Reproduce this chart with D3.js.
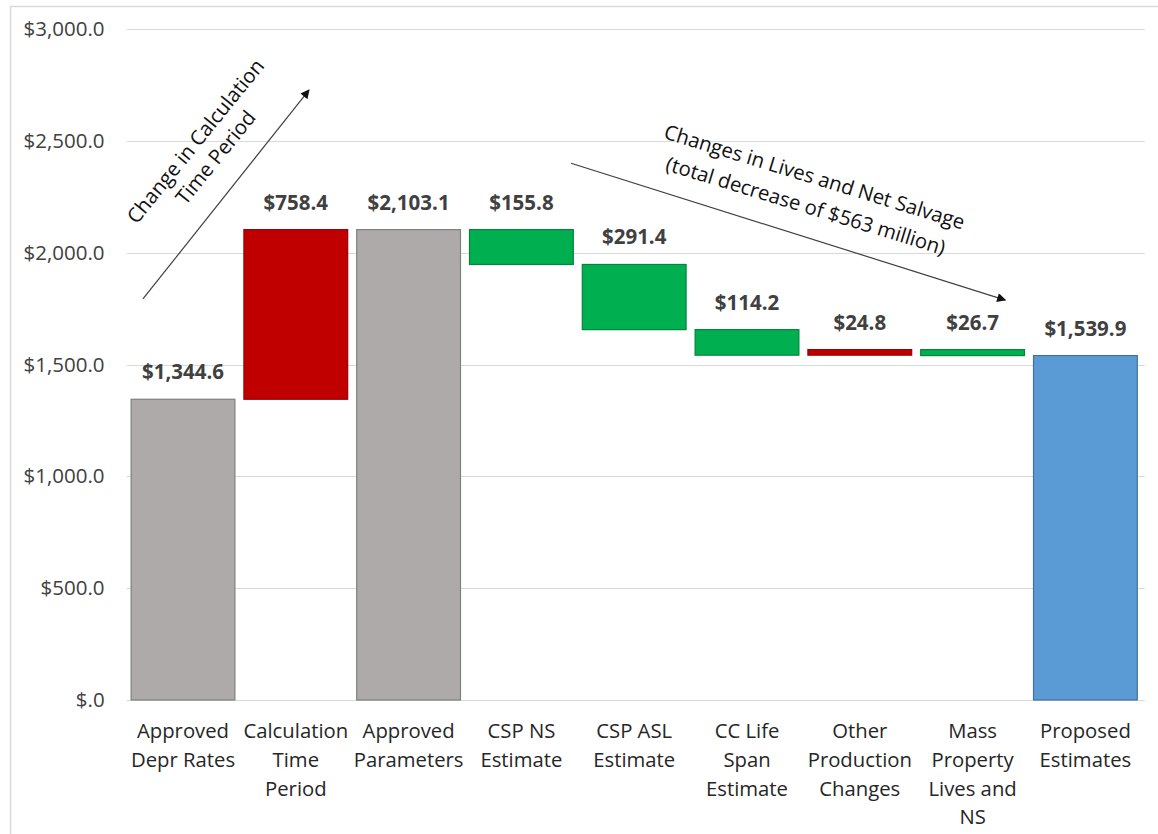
<!DOCTYPE html>
<html>
<head>
<meta charset="utf-8">
<script src="https://d3js.org/d3.v7.min.js"></script>
<style>
  body { margin: 0; background: #fff; }
  svg text { font-family: "Open Sans", "DejaVu Sans", sans-serif; }
</style>
</head>
<body>
<div id="chart"></div>
<script>
// categories (tick labels, "\n" = line break)
var categories = [
  "Approved\nDepr Rates",
  "Calculation\nTime\nPeriod",
  "Approved\nParameters",
  "CSP NS\nEstimate",
  "CSP ASL\nEstimate",
  "CC Life\nSpan\nEstimate",
  "Other\nProduction\nChanges",
  "Mass\nProperty\nLives and\nNS",
  "Proposed\nEstimates"
];
// signed step values; totals are absolute
var values = [1344.6, 758.4, 2103.1, -155.8, -291.4, -114.2, 24.8, -26.7, 1539.9];
var kinds = ["start", "up", "subtotal", "down", "down", "down", "up", "down", "end"];
var yTicks = [0, 500, 1000, 1500, 2000, 2500, 3000];

// annotations, in category-index / value units
var annoArrows = [
  { from: [-0.355, 1793], to: [1.117, 2727] },
  { from: [3.44, 2400], to: [7.29, 1788] }
];
var annoTexts = [
  { at: [0.2, 2462], angle: -51, gap: 26, lines: ["Change in Calculation", "Time Period"] },
  { at: [5.56, 2274], angle: 17, gap: 30, lines: ["Changes in Lives and Net Salvage", "(total decrease of $563 million)"] }
];

var width = 1158, height = 834;
var plotLeft = 126.6, plotRight = 1141.8, plotTop = 29, plotBottom = 700;

var fills = { start: "#AEAAAA", subtotal: "#AEAAAA", up: "#C00000", down: "#00B050", end: "#5B9BD5" };
var strokes = { start: "#7F7F7F", subtotal: "#7F7F7F", up: "#9A0000", down: "#00853C", end: "#41719C" };

// build waterfall rows
var rows = [];
var run = 0;
values.forEach(function(v, i) {
  var k = kinds[i], lo, hi;
  if (k == "start" || k == "subtotal" || k == "end") {
    lo = 0; hi = v; run = v;
  } else {
    lo = Math.min(run, run + v); hi = Math.max(run, run + v); run = run + v;
  }
  rows.push({ cat: categories[i], v: v, kind: k, lo: lo, hi: hi });
});

var svg = d3.select("#chart").append("svg")
  .attr("width", width).attr("height", height);

svg.append("rect")
  .attr("x", 10.5).attr("y", 6.5).attr("width", width).attr("height", height)
  .attr("fill", "none").attr("stroke", "#D9D9D9").attr("stroke-width", 1.5);

var x = d3.scaleBand()
  .domain(categories)
  .range([plotLeft, plotRight])
  .paddingInner(0.08)
  .paddingOuter(0.04);

var y = d3.scaleLinear().domain([0, 3000]).range([plotBottom, plotTop]);

// index-space scale for annotations
var xi = d3.scaleLinear().domain([-0.5, categories.length - 0.5]).range([plotLeft, plotRight]);

var fmt = d3.format(",.1f");
function money(v) { return v == 0 ? "$.0" : "$" + fmt(v); }

// gridlines
svg.append("g").selectAll("line")
  .data(yTicks).enter().append("line")
  .attr("x1", plotLeft).attr("x2", plotRight + 3)
  .attr("y1", function(d) { return Math.round(y(d)) + 0.5; })
  .attr("y2", function(d) { return Math.round(y(d)) + 0.5; })
  .attr("stroke", "#D9D9D9").attr("stroke-width", 1);

// y axis labels
var yAxis = svg.append("g")
  .attr("transform", "translate(" + plotLeft + ",0)")
  .call(d3.axisLeft(y).tickValues(yTicks).tickFormat(money).tickSize(0).tickPadding(22));
yAxis.select(".domain").remove();
yAxis.selectAll("text")
  .attr("font-size", 20.5).attr("fill", "#404040")
  .style("font-family", "'Open Sans', sans-serif");

// x axis labels
var xAxis = svg.append("g")
  .attr("transform", "translate(0," + plotBottom + ")")
  .call(d3.axisBottom(x).tickSize(0).tickFormat(""));
xAxis.select(".domain").remove();
xAxis.selectAll(".tick").each(function(d) {
  var t = d3.select(this).append("text")
    .attr("text-anchor", "middle")
    .attr("font-size", 20.3)
    .attr("fill", "#262626");
  d.split("\n").forEach(function(line, j) {
    t.append("tspan").attr("x", 0).attr("y", 38 + j * 28.8).text(line);
  });
});

// bars
svg.append("g").selectAll("rect")
  .data(rows).enter().append("rect")
  .attr("x", function(d) { return x(d.cat); })
  .attr("width", x.bandwidth())
  .attr("y", function(d) { return y(d.hi); })
  .attr("height", function(d) { return Math.max(y(d.lo) - y(d.hi), 1); })
  .attr("fill", function(d) { return fills[d.kind]; })
  .attr("stroke", function(d) { return strokes[d.kind]; })
  .attr("stroke-width", 1.2);

// value labels
svg.append("g").selectAll("text")
  .data(rows).enter().append("text")
  .attr("x", function(d) { return x(d.cat) + x.bandwidth() / 2; })
  .attr("y", function(d) { return y(d.hi) - 20; })
  .attr("text-anchor", "middle")
  .attr("font-size", 20.5).attr("font-weight", "bold")
  .attr("fill", "#404040")
  .text(function(d) { return money(Math.abs(d.v)); });

// arrows
svg.append("defs").append("marker")
  .attr("id", "head")
  .attr("viewBox", "0 0 10 10")
  .attr("refX", 9).attr("refY", 5)
  .attr("markerWidth", 11).attr("markerHeight", 9)
  .attr("markerUnits", "userSpaceOnUse")
  .attr("orient", "auto")
  .append("path").attr("d", "M0,0L10,5L0,10Z").attr("fill", "#111");

svg.append("g").selectAll("line")
  .data(annoArrows).enter().append("line")
  .attr("x1", function(d) { return xi(d.from[0]); })
  .attr("y1", function(d) { return y(d.from[1]); })
  .attr("x2", function(d) { return xi(d.to[0]); })
  .attr("y2", function(d) { return y(d.to[1]); })
  .attr("stroke", "#404040").attr("stroke-width", 1.2)
  .attr("marker-end", "url(#head)");

annoTexts.forEach(function(a) {
  var g = svg.append("g")
    .attr("transform", "translate(" + xi(a.at[0]) + "," + y(a.at[1]) + ") rotate(" + a.angle + ")");
  a.lines.forEach(function(line, j) {
    g.append("text")
      .attr("x", 0)
      .attr("y", (j - (a.lines.length - 1) / 2) * a.gap)
      .attr("dy", "0.35em")
      .attr("text-anchor", "middle")
      .attr("font-size", 20.3)
      .attr("fill", "#111")
      .text(line);
  });
});
</script>
</body>
</html>
